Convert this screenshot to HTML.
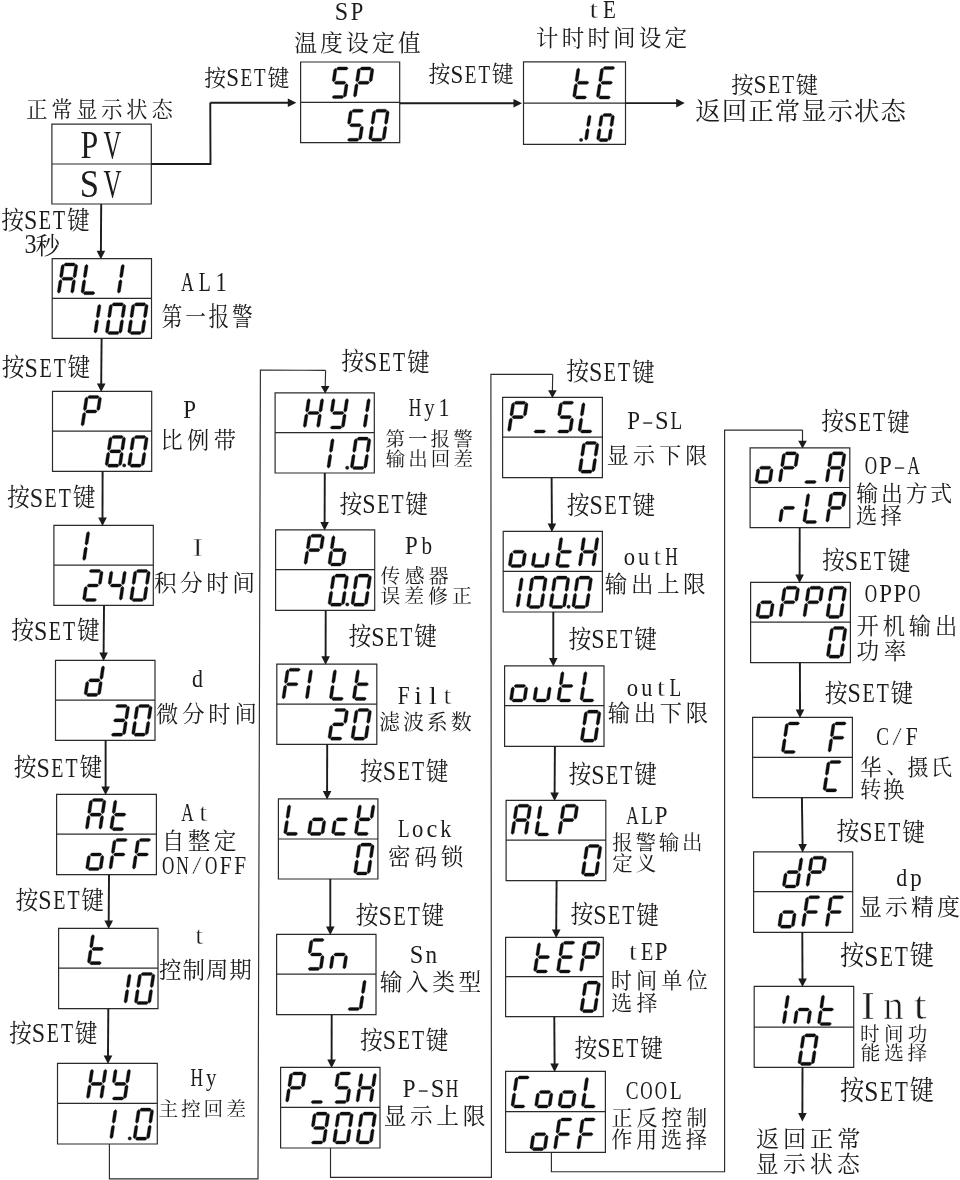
<!DOCTYPE html>
<html lang="zh">
<head>
<meta charset="utf-8">
<title>参数设置流程图</title>
<style>
html,body{margin:0;padding:0;background:#fff}
body{width:960px;height:1180px;overflow:hidden;font-family:"Liberation Serif",serif}
svg{display:block}
svg text{font-family:"Liberation Serif",serif;fill:#1a1a1a;text-anchor:middle}
svg text.cj{font-family:"Liberation Serif","Noto Serif CJK SC",serif;text-anchor:start}
.ga{opacity:.999}
.thin{stroke:#fff;stroke-width:.9}
.thin2{stroke:#fff;stroke-width:.7}
.thin3{stroke:#fff;stroke-width:.45}
.bx{fill:none;stroke:#2b2b2b;stroke-width:1.2}
.fl{fill:none;stroke:#1a1a1a;stroke-width:1.9}
.tl{fill:none;stroke:#2b2b2b;stroke-width:1.15}
.ah{fill:#1a1a1a;stroke:none}
.sg{fill:#111;stroke:#111;stroke-width:0.35;stroke-linejoin:round}
use,circle{fill:#1a1a1a}
</style>
</head>
<body>
<svg width="960" height="1180" viewBox="0 0 960 1180" role="img" aria-label="温控器参数设置流程图：正常显示状态 PV/SV，按SET键进入 SP 温度设定值、tE 计时时间设定；按SET键3秒进入 AL1 第一报警、P 比例带、I 积分时间、d 微分时间、At 自整定、t 控制周期、Hy 主控回差、Hy1、Pb、Filt、Lock、Sn、P-SH、P-SL、outH、outL、ALP、tEP、COOL、OP-A、OPPO、C/F、dp、Int，返回正常显示状态">
<desc>正常显示状态 PV SV；按SET键 → SP 温度设定值 → 按SET键 → tE 计时时间设定 → 按SET键 返回正常显示状态。按SET键3秒 → AL1 第一报警 → P 比例带 → I 积分时间 → d 微分时间 → At 自整定 ON/OFF → t 控制周期 → Hy 主控回差 → Hy1 第一报警输出回差 → Pb 传感器误差修正 → Filt 滤波系数 → Lock 密码锁 → Sn 输入类型 → P-SH 显示上限 → P-SL 显示下限 → outH 输出上限 → outL 输出下限 → ALP 报警输出定义 → tEP 时间单位选择 → COOL 正反控制作用选择 → OP-A 输出方式选择 → OPPO 开机输出功率 → C/F 华、摄氏转换 → dp 显示精度 → Int 时间功能选择 → 按SET键 返回正常显示状态</desc>
<defs>
<filter id="soft" filterUnits="userSpaceOnUse" x="0" y="0" width="960" height="1180"><feGaussianBlur stdDeviation="0.35"/></filter>
<g id="set"><text class="cj" transform="translate(-0.71,21.08) scale(0.908,1)" font-size="25.1">按</text><text class="cj" transform="translate(65.07,21.23) scale(0.908,1)" font-size="25.1">键</text><text transform="translate(28.69,21.6) scale(0.85,1)" font-size="28.2">S</text><text transform="translate(43.01,21.6) scale(0.71,1)" font-size="28.2">E</text><text transform="translate(57.19,21.6) scale(0.7,1)" font-size="28.2">T</text></g>
</defs>
<rect width="960" height="1180" fill="#fff"/>
<g class="ga" filter="url(#soft)">
<path class="bx" d="M51.9,124.2H151.3V204H51.9ZM51.9,164H151.3M300.6,62H399.7V142.7H300.6ZM300.6,102.4H399.7M523.5,61.8H625.5V144.4H523.5ZM523.5,103.1H625.5M52.2,258.6H151.5V338.4H52.2ZM52.2,298.4H151.5M52.5,391.4H151.7V471.3H52.5ZM52.5,431.1H151.7M53.9,525.4H153.3V605.3H53.9ZM53.9,565.1H153.3M55.5,660.4H155V740.3H55.5ZM55.5,700.1H155M56.6,794.4H156.4V874.7H56.6ZM56.6,834.1H156.4M58.6,928.4H158V1008.7H58.6ZM58.6,968.1H158M57.5,1063.4H157.3V1144H57.5ZM57.5,1103.4H157.3M275.1,392.9H374.3V473H275.1ZM275.1,432.7H374.3M275.6,529.9H374.7V610.3H275.6ZM275.6,569.7H374.7M276.8,664.1H376.8V744.3H276.8ZM276.8,704.1H376.8M278.4,798.8H377.9V879H278.4ZM278.4,839H377.9M276.6,934.4H376V1014.7H276.6ZM276.6,974.1H376M280.6,1067.4H380V1148H280.6ZM280.6,1107.4H380M502.6,397.4H602.4V477.7H502.6ZM502.6,437.1H602.4M503.2,531.4H602.4V612H503.2ZM503.2,571.4H602.4M504.6,665.9H604V746.3H504.6ZM504.6,705.7H604M506.1,800.4H605.8V880.7H506.1ZM506.1,840.1H605.8M505.6,937.4H603.3V1016.7H505.6ZM505.6,976.7H603.3M505.6,1071.4H605.4V1152.3H505.6ZM505.6,1111.7H605.4M750.1,447.8H849.8V527.7H750.1ZM750.1,487.5H849.8M750.6,582.4H850.4V662.7H750.6ZM750.6,622.1H850.4M752.6,717.4H852.4V797.7H752.6ZM752.6,757.4H852.4M753.6,851.9H852.7V932.3H753.6ZM753.6,891.7H852.7M754.2,986.4H853.7V1067.3H754.2ZM754.2,1027.2H853.7"/>
<g class="sg"><path d="M336.32,68.45 338.11,66.9 346.9,66.9 348.22,68.45 346.44,70 337.64,70ZM333.54,82 335.32,80.45 336.91,69.85 335.6,68.3 333.81,69.85 332.22,80.45ZM334.18,82.75 335.96,81.2 344.76,81.2 346.08,82.75 344.29,84.3 335.5,84.3ZM344.66,97.2 346.44,95.65 348.03,85.05 346.71,83.5 344.93,85.05 343.34,95.65ZM332.03,97.05 333.81,95.5 342.61,95.5 343.93,97.05 342.15,98.6 333.35,98.6Z"/><path d="M359.82,68.45 361.61,66.9 370.4,66.9 371.72,68.45 369.94,70 361.14,70ZM370.44,82 372.22,80.45 373.81,69.85 372.5,68.3 370.71,69.85 369.12,80.45ZM354.76,97.2 356.54,95.65 358.13,85.05 356.81,83.5 355.03,85.05 353.44,95.65ZM357.04,82 358.82,80.45 360.41,69.85 359.1,68.3 357.31,69.85 355.72,80.45ZM357.68,82.75 359.46,81.2 368.26,81.2 369.58,82.75 367.79,84.3 359,84.3Z"/><path d="M351.68,110.75 353.47,109.2 362.26,109.2 363.58,110.75 361.8,112.3 353,112.3ZM348.87,124.5 350.65,122.95 352.27,112.15 350.96,110.6 349.17,112.15 347.55,122.95ZM349.51,125.25 351.29,123.7 360.09,123.7 361.41,125.25 359.62,126.8 350.83,126.8ZM359.96,139.9 361.74,138.35 363.36,127.55 362.05,126 360.26,127.55 358.64,138.35ZM347.33,139.75 349.12,138.2 357.91,138.2 359.23,139.75 357.45,141.3 348.65,141.3Z"/><path d="M375.18,110.75 376.97,109.2 385.76,109.2 387.08,110.75 385.3,112.3 376.5,112.3ZM385.77,124.5 387.55,122.95 389.17,112.15 387.86,110.6 386.07,112.15 384.45,122.95ZM383.46,139.9 385.24,138.35 386.86,127.55 385.55,126 383.76,127.55 382.14,138.35ZM370.83,139.75 372.62,138.2 381.41,138.2 382.73,139.75 380.95,141.3 372.15,141.3ZM370.06,139.9 371.84,138.35 373.46,127.55 372.15,126 370.36,127.55 368.74,138.35ZM372.37,124.5 374.15,122.95 375.77,112.15 374.46,110.6 372.67,112.15 371.05,122.95Z"/><path d="M574.83,97.45 576.62,95.9 585.41,95.9 586.73,97.45 584.95,99 576.15,99ZM574.06,97.6 575.84,96.05 577.49,85.05 576.17,83.5 574.39,85.05 572.74,96.05ZM576.4,82 578.18,80.45 579.83,69.45 578.51,67.9 576.73,69.45 575.08,80.45ZM577.04,82.75 578.82,81.2 587.62,81.2 588.94,82.75 587.15,84.3 578.36,84.3Z"/><path d="M602.94,68.05 604.73,66.5 613.52,66.5 614.84,68.05 613.06,69.6 604.26,69.6ZM598.53,97.45 600.32,95.9 609.12,95.9 610.43,97.45 608.65,99 599.85,99ZM597.76,97.6 599.54,96.05 601.19,85.05 599.88,83.5 598.09,85.05 596.44,96.05ZM600.1,82 601.88,80.45 603.53,69.45 602.21,67.9 600.43,69.45 598.78,80.45ZM600.74,82.75 602.52,81.2 611.32,81.2 612.64,82.75 610.86,84.3 602.06,84.3Z"/><circle cx="581.1" cy="139.9" r="1.7"/><path d="M585.96,140.3 587.74,138.75 589.07,129.9 587.75,128.35 585.97,129.9 584.64,138.75ZM587.98,126.85 589.76,125.3 591.09,116.45 589.77,114.9 587.99,116.45 586.66,125.3Z"/><path d="M602.5,115.05 604.28,113.5 610.98,113.5 612.3,115.05 610.51,116.6 603.82,116.6ZM611.28,126.85 613.06,125.3 614.39,116.45 613.07,114.9 611.29,116.45 609.96,125.3ZM609.26,140.3 611.04,138.75 612.37,129.9 611.05,128.35 609.27,129.9 607.94,138.75ZM598.73,140.15 600.52,138.6 607.22,138.6 608.53,140.15 606.75,141.7 600.05,141.7ZM597.96,140.3 599.74,138.75 601.07,129.9 599.75,128.35 597.97,129.9 596.64,138.75ZM599.98,126.85 601.76,125.3 603.09,116.45 601.77,114.9 599.99,116.45 598.66,125.3Z"/><path d="M63.74,264.45 65.52,262.9 74.32,262.9 75.64,264.45 73.85,266 65.06,266ZM74.35,278.05 76.13,276.5 77.73,265.85 76.41,264.3 74.63,265.85 73.03,276.5ZM72.06,293.3 73.84,291.75 75.44,281.1 74.12,279.55 72.34,281.1 70.74,291.75ZM58.66,293.3 60.44,291.75 62.04,281.1 60.72,279.55 58.94,281.1 57.34,291.75ZM60.95,278.05 62.73,276.5 64.33,265.85 63.01,264.3 61.23,265.85 59.63,276.5ZM61.58,278.8 63.37,277.25 72.17,277.25 73.48,278.8 71.7,280.35 62.9,280.35Z"/><path d="M83.13,293.15 84.91,291.6 93.72,291.6 95.03,293.15 93.25,294.7 84.45,294.7ZM82.36,293.3 84.14,291.75 85.74,281.1 84.42,279.55 82.64,281.1 81.04,291.75ZM84.65,278.05 86.43,276.5 88.03,265.85 86.71,264.3 84.93,265.85 83.33,276.5Z"/><path d="M118.66,293.3 120.44,291.75 122.04,281.1 120.72,279.55 118.94,281.1 117.34,291.75ZM120.95,278.05 122.73,276.5 124.33,265.85 123.01,264.3 121.23,265.85 119.63,276.5Z"/><path d="M95.26,333.2 97.04,331.65 98.64,321 97.32,319.45 95.54,321 93.94,331.65ZM97.55,317.95 99.33,316.4 100.93,305.75 99.61,304.2 97.83,305.75 96.23,316.4Z"/><path d="M111.84,304.35 113.62,302.8 122.42,302.8 123.74,304.35 121.96,305.9 113.16,305.9ZM122.45,317.95 124.23,316.4 125.83,305.75 124.51,304.2 122.73,305.75 121.13,316.4ZM120.16,333.2 121.94,331.65 123.54,321 122.22,319.45 120.44,321 118.84,331.65ZM107.53,333.05 109.31,331.5 118.12,331.5 119.43,333.05 117.65,334.6 108.85,334.6ZM106.76,333.2 108.54,331.65 110.14,321 108.82,319.45 107.04,321 105.44,331.65ZM109.05,317.95 110.83,316.4 112.43,305.75 111.11,304.2 109.33,305.75 107.73,316.4Z"/><path d="M134.14,304.35 135.92,302.8 144.72,302.8 146.04,304.35 144.25,305.9 135.46,305.9ZM144.75,317.95 146.53,316.4 148.13,305.75 146.81,304.2 145.03,305.75 143.43,316.4ZM142.46,333.2 144.24,331.65 145.84,321 144.52,319.45 142.74,321 141.14,331.65ZM129.83,333.05 131.62,331.5 140.41,331.5 141.73,333.05 139.95,334.6 131.15,334.6ZM129.06,333.2 130.84,331.65 132.44,321 131.12,319.45 129.34,321 127.74,331.65ZM131.35,317.95 133.13,316.4 134.73,305.75 133.41,304.2 131.63,305.75 130.03,316.4Z"/><path d="M87.47,397.05 89.25,395.5 98.05,395.5 99.37,397.05 97.58,398.6 88.78,398.6ZM98.06,410.75 99.84,409.2 101.46,398.45 100.14,396.9 98.36,398.45 96.75,409.2ZM82.36,426.1 84.14,424.55 85.75,413.8 84.44,412.25 82.66,413.8 81.04,424.55ZM84.66,410.75 86.44,409.2 88.06,398.45 86.74,396.9 84.96,398.45 83.34,409.2ZM85.3,411.5 87.08,409.95 95.88,409.95 97.2,411.5 95.42,413.05 86.62,413.05Z"/><path d="M111.52,437.05 113.3,435.5 122.1,435.5 123.42,437.05 121.64,438.6 112.84,438.6ZM122.14,450.6 123.92,449.05 125.51,438.45 124.2,436.9 122.41,438.45 120.82,449.05ZM119.86,465.8 121.64,464.25 123.23,453.65 121.92,452.1 120.13,453.65 118.54,464.25ZM107.23,465.65 109.02,464.1 117.81,464.1 119.13,465.65 117.35,467.2 108.55,467.2ZM106.46,465.8 108.24,464.25 109.83,453.65 108.52,452.1 106.73,453.65 105.14,464.25ZM108.74,450.6 110.52,449.05 112.11,438.45 110.8,436.9 109.01,438.45 107.42,449.05ZM109.38,451.35 111.16,449.8 119.96,449.8 121.28,451.35 119.49,452.9 110.69,452.9Z"/><circle cx="124.2" cy="465.4" r="1.7"/><path d="M134.12,437.05 135.91,435.5 144.7,435.5 146.02,437.05 144.24,438.6 135.44,438.6ZM144.74,450.6 146.52,449.05 148.11,438.45 146.79,436.9 145.01,438.45 143.42,449.05ZM142.46,465.8 144.24,464.25 145.83,453.65 144.51,452.1 142.73,453.65 141.14,464.25ZM129.83,465.65 131.62,464.1 140.41,464.1 141.73,465.65 139.95,467.2 131.15,467.2ZM129.06,465.8 130.84,464.25 132.43,453.65 131.11,452.1 129.33,453.65 127.74,464.25ZM131.34,450.6 133.12,449.05 134.71,438.45 133.39,436.9 131.61,438.45 130.02,449.05Z"/><path d="M83.96,560.6 85.74,559.05 87.35,548.3 86.04,546.75 84.25,548.3 82.64,559.05ZM86.26,545.25 88.05,543.7 89.66,532.95 88.34,531.4 86.56,532.95 84.95,543.7Z"/><path d="M89.08,571.05 90.86,569.5 99.66,569.5 100.98,571.05 99.2,572.6 90.4,572.6ZM99.67,584.8 101.45,583.25 103.07,572.45 101.76,570.9 99.97,572.45 98.35,583.25ZM86.91,585.55 88.69,584 97.49,584 98.81,585.55 97.02,587.1 88.22,587.1ZM83.96,600.2 85.74,598.65 87.36,587.85 86.05,586.3 84.26,587.85 82.64,598.65ZM84.73,600.05 86.52,598.5 95.31,598.5 96.63,600.05 94.85,601.6 86.05,601.6Z"/><path d="M109.47,584.8 111.25,583.25 112.87,572.45 111.56,570.9 109.77,572.45 108.15,583.25ZM110.11,585.55 111.89,584 120.69,584 122.01,585.55 120.23,587.1 111.42,587.1ZM122.87,584.8 124.65,583.25 126.27,572.45 124.96,570.9 123.17,572.45 121.55,583.25ZM120.56,600.2 122.34,598.65 123.96,587.85 122.65,586.3 120.86,587.85 119.24,598.65Z"/><path d="M136.18,571.05 137.97,569.5 146.77,569.5 148.08,571.05 146.3,572.6 137.5,572.6ZM146.77,584.8 148.55,583.25 150.17,572.45 148.85,570.9 147.07,572.45 145.45,583.25ZM144.46,600.2 146.24,598.65 147.86,587.85 146.54,586.3 144.76,587.85 143.14,598.65ZM131.83,600.05 133.62,598.5 142.42,598.5 143.73,600.05 141.95,601.6 133.15,601.6ZM131.06,600.2 132.84,598.65 134.46,587.85 133.15,586.3 131.36,587.85 129.74,598.65ZM133.37,584.8 135.15,583.25 136.77,572.45 135.46,570.9 133.67,572.45 132.05,583.25Z"/><path d="M101.16,679.65 102.95,678.1 104.56,667.35 103.24,665.8 101.46,667.35 99.84,678.1ZM98.86,695 100.64,693.45 102.25,682.7 100.94,681.15 99.16,682.7 97.54,693.45ZM86.23,694.85 88.02,693.3 96.81,693.3 98.13,694.85 96.35,696.4 87.55,696.4ZM85.46,695 87.24,693.45 88.85,682.7 87.54,681.15 85.75,682.7 84.14,693.45ZM88.4,680.4 90.18,678.85 98.98,678.85 100.3,680.4 98.52,681.95 89.72,681.95Z"/><path d="M115.52,706.05 117.3,704.5 126.1,704.5 127.42,706.05 125.64,707.6 116.84,707.6ZM126.14,719.6 127.92,718.05 129.51,707.45 128.19,705.9 126.41,707.45 124.82,718.05ZM113.38,720.35 115.16,718.8 123.96,718.8 125.28,720.35 123.49,721.9 114.69,721.9ZM123.86,734.8 125.64,733.25 127.23,722.65 125.92,721.1 124.13,722.65 122.54,733.25ZM111.23,734.65 113.02,733.1 121.81,733.1 123.13,734.65 121.35,736.2 112.55,736.2Z"/><path d="M138.12,706.05 139.91,704.5 148.71,704.5 150.02,706.05 148.24,707.6 139.44,707.6ZM148.74,719.6 150.52,718.05 152.11,707.45 150.79,705.9 149.01,707.45 147.42,718.05ZM146.46,734.8 148.24,733.25 149.83,722.65 148.51,721.1 146.73,722.65 145.14,733.25ZM133.83,734.65 135.62,733.1 144.42,733.1 145.73,734.65 143.95,736.2 135.15,736.2ZM133.06,734.8 134.84,733.25 136.43,722.65 135.12,721.1 133.33,722.65 131.74,733.25ZM135.34,719.6 137.12,718.05 138.71,707.45 137.4,705.9 135.61,707.45 134.02,718.05Z"/><path d="M91.9,800.05 93.68,798.5 102.48,798.5 103.8,800.05 102.02,801.6 93.21,801.6ZM102.48,813.85 104.26,812.3 105.89,801.45 104.57,799.9 102.79,801.45 101.16,812.3ZM100.16,829.3 101.94,827.75 103.57,816.9 102.25,815.35 100.47,816.9 98.84,827.75ZM86.76,829.3 88.54,827.75 90.17,816.9 88.85,815.35 87.07,816.9 85.44,827.75ZM89.08,813.85 90.86,812.3 92.49,801.45 91.17,799.9 89.39,801.45 87.76,812.3ZM89.72,814.6 91.5,813.05 100.3,813.05 101.62,814.6 99.83,816.15 91.03,816.15Z"/><path d="M111.93,829.15 113.72,827.6 122.52,827.6 123.83,829.15 122.05,830.7 113.25,830.7ZM111.16,829.3 112.94,827.75 114.57,816.9 113.25,815.35 111.47,816.9 109.84,827.75ZM113.48,813.85 115.26,812.3 116.89,801.45 115.57,799.9 113.79,801.45 112.16,812.3ZM114.12,814.6 115.9,813.05 124.7,813.05 126.02,814.6 124.23,816.15 115.43,816.15Z"/><path d="M100.46,869.2 102.24,867.65 103.86,856.85 102.55,855.3 100.76,856.85 99.14,867.65ZM87.83,869.05 89.61,867.5 98.41,867.5 99.73,869.05 97.95,870.6 89.15,870.6ZM87.06,869.2 88.84,867.65 90.46,856.85 89.14,855.3 87.36,856.85 85.74,867.65ZM90.01,854.55 91.79,853 100.59,853 101.91,854.55 100.12,856.1 91.32,856.1Z"/><path d="M115.48,840.05 117.26,838.5 126.06,838.5 127.38,840.05 125.6,841.6 116.8,841.6ZM110.36,869.2 112.14,867.65 113.76,856.85 112.44,855.3 110.66,856.85 109.04,867.65ZM112.67,853.8 114.45,852.25 116.07,841.45 114.75,839.9 112.97,841.45 111.35,852.25ZM113.31,854.55 115.09,853 123.89,853 125.21,854.55 123.42,856.1 114.62,856.1Z"/><path d="M138.88,840.05 140.66,838.5 149.47,838.5 150.78,840.05 149,841.6 140.2,841.6ZM133.76,869.2 135.54,867.65 137.16,856.85 135.84,855.3 134.06,856.85 132.44,867.65ZM136.07,853.8 137.85,852.25 139.47,841.45 138.16,839.9 136.37,841.45 134.75,852.25ZM136.71,854.55 138.49,853 147.29,853 148.61,854.55 146.83,856.1 138.03,856.1Z"/><path d="M89.53,963.15 91.31,961.6 100.12,961.6 101.43,963.15 99.65,964.7 90.85,964.7ZM88.76,963.3 90.54,961.75 92.12,951.2 90.81,949.65 89.03,951.2 87.44,961.75ZM91.03,948.15 92.81,946.6 94.4,936.05 93.08,934.5 91.3,936.05 89.72,946.6ZM91.67,948.9 93.45,947.35 102.25,947.35 103.57,948.9 101.79,950.45 92.99,950.45Z"/><path d="M125.36,1003.2 127.14,1001.65 128.76,990.85 127.44,989.3 125.66,990.85 124.04,1001.65ZM127.67,987.8 129.45,986.25 131.07,975.45 129.75,973.9 127.97,975.45 126.35,986.25Z"/><path d="M140.88,974.05 142.66,972.5 151.47,972.5 152.78,974.05 151,975.6 142.2,975.6ZM151.47,987.8 153.25,986.25 154.87,975.45 153.55,973.9 151.77,975.45 150.15,986.25ZM149.16,1003.2 150.94,1001.65 152.56,990.85 151.24,989.3 149.46,990.85 147.84,1001.65ZM136.53,1003.05 138.31,1001.5 147.12,1001.5 148.43,1003.05 146.65,1004.6 137.85,1004.6ZM135.76,1003.2 137.54,1001.65 139.16,990.85 137.84,989.3 136.06,990.85 134.44,1001.65ZM138.07,987.8 139.85,986.25 141.47,975.45 140.16,973.9 138.37,975.45 136.75,986.25Z"/><path d="M103.48,1083.15 105.26,1081.6 106.89,1070.75 105.57,1069.2 103.79,1070.75 102.16,1081.6ZM101.16,1098.6 102.94,1097.05 104.57,1086.2 103.25,1084.65 101.47,1086.2 99.84,1097.05ZM87.76,1098.6 89.54,1097.05 91.17,1086.2 89.85,1084.65 88.07,1086.2 86.44,1097.05ZM90.08,1083.15 91.86,1081.6 93.49,1070.75 92.17,1069.2 90.39,1070.75 88.76,1081.6ZM90.72,1083.9 92.5,1082.35 101.3,1082.35 102.62,1083.9 100.83,1085.45 92.03,1085.45Z"/><path d="M127.08,1083.15 128.86,1081.6 130.49,1070.75 129.17,1069.2 127.39,1070.75 125.76,1081.6ZM124.76,1098.6 126.54,1097.05 128.17,1086.2 126.85,1084.65 125.07,1086.2 123.44,1097.05ZM112.13,1098.45 113.91,1096.9 122.72,1096.9 124.03,1098.45 122.25,1100 113.45,1100ZM113.68,1083.15 115.46,1081.6 117.09,1070.75 115.77,1069.2 113.99,1070.75 112.36,1081.6ZM114.31,1083.9 116.1,1082.35 124.9,1082.35 126.22,1083.9 124.43,1085.45 115.63,1085.45Z"/><path d="M111.16,1138.8 112.94,1137.25 114.56,1126.45 113.25,1124.9 111.46,1126.45 109.84,1137.25ZM113.47,1123.4 115.25,1121.85 116.87,1111.05 115.56,1109.5 113.77,1111.05 112.15,1121.85Z"/><circle cx="129.7" cy="1138.4" r="1.7"/><path d="M139.58,1109.65 141.36,1108.1 150.16,1108.1 151.48,1109.65 149.7,1111.2 140.9,1111.2ZM150.17,1123.4 151.95,1121.85 153.57,1111.05 152.25,1109.5 150.47,1111.05 148.85,1121.85ZM147.86,1138.8 149.64,1137.25 151.26,1126.45 149.94,1124.9 148.16,1126.45 146.54,1137.25ZM135.23,1138.65 137.01,1137.1 145.81,1137.1 147.13,1138.65 145.35,1140.2 136.55,1140.2ZM134.46,1138.8 136.24,1137.25 137.86,1126.45 136.54,1124.9 134.76,1126.45 133.14,1137.25ZM136.77,1123.4 138.55,1121.85 140.17,1111.05 138.85,1109.5 137.07,1111.05 135.45,1121.85Z"/><path d="M320.26,412.25 322.05,410.7 323.66,399.95 322.34,398.4 320.56,399.95 318.94,410.7ZM317.96,427.6 319.74,426.05 321.36,415.3 320.04,413.75 318.25,415.3 316.64,426.05ZM304.56,427.6 306.34,426.05 307.96,415.3 306.64,413.75 304.86,415.3 303.24,426.05ZM306.86,412.25 308.65,410.7 310.26,399.95 308.94,398.4 307.16,399.95 305.55,410.7ZM307.5,413 309.28,411.45 318.08,411.45 319.4,413 317.62,414.55 308.82,414.55Z"/><path d="M345.06,412.25 346.85,410.7 348.46,399.95 347.14,398.4 345.36,399.95 343.75,410.7ZM342.76,427.6 344.54,426.05 346.16,415.3 344.84,413.75 343.06,415.3 341.44,426.05ZM330.13,427.45 331.92,425.9 340.71,425.9 342.03,427.45 340.25,429 331.45,429ZM331.66,412.25 333.45,410.7 335.06,399.95 333.74,398.4 331.96,399.95 330.35,410.7ZM332.3,413 334.08,411.45 342.88,411.45 344.2,413 342.42,414.55 333.62,414.55Z"/><path d="M364.56,427.6 366.34,426.05 367.96,415.3 366.64,413.75 364.86,415.3 363.24,426.05ZM366.86,412.25 368.65,410.7 370.26,399.95 368.94,398.4 367.16,399.95 365.55,410.7Z"/><path d="M328.36,468.2 330.14,466.65 331.79,455.65 330.48,454.1 328.69,455.65 327.04,466.65ZM330.7,452.6 332.48,451.05 334.13,440.05 332.82,438.5 331.03,440.05 329.38,451.05Z"/><circle cx="347.2" cy="467.8" r="1.7"/><path d="M356.84,438.65 358.62,437.1 367.42,437.1 368.74,438.65 366.96,440.2 358.16,440.2ZM367.4,452.6 369.18,451.05 370.83,440.05 369.51,438.5 367.73,440.05 366.08,451.05ZM365.06,468.2 366.84,466.65 368.49,455.65 367.17,454.1 365.39,455.65 363.74,466.65ZM352.43,468.05 354.21,466.5 363.01,466.5 364.33,468.05 362.55,469.6 353.75,469.6ZM351.66,468.2 353.44,466.65 355.09,455.65 353.77,454.1 351.99,455.65 350.34,466.65ZM354,452.6 355.78,451.05 357.43,440.05 356.12,438.5 354.33,440.05 352.68,451.05Z"/><path d="M310.44,535.75 312.22,534.2 321.02,534.2 322.34,535.75 320.56,537.3 311.76,537.3ZM321.05,549.35 322.83,547.8 324.43,537.15 323.11,535.6 321.33,537.15 319.73,547.8ZM305.36,564.6 307.14,563.05 308.74,552.4 307.42,550.85 305.64,552.4 304.04,563.05ZM307.65,549.35 309.43,547.8 311.03,537.15 309.71,535.6 307.93,537.15 306.33,547.8ZM308.29,550.1 310.07,548.55 318.87,548.55 320.19,550.1 318.4,551.65 309.6,551.65Z"/><path d="M342.76,564.6 344.54,563.05 346.14,552.4 344.82,550.85 343.04,552.4 341.44,563.05ZM330.13,564.45 331.92,562.9 340.71,562.9 342.03,564.45 340.25,566 331.45,566ZM329.36,564.6 331.14,563.05 332.74,552.4 331.42,550.85 329.64,552.4 328.04,563.05ZM331.65,549.35 333.43,547.8 335.03,537.15 333.71,535.6 331.93,537.15 330.33,547.8ZM332.29,550.1 334.07,548.55 342.87,548.55 344.19,550.1 342.4,551.65 333.6,551.65Z"/><path d="M334.48,575.65 336.27,574.1 345.06,574.1 346.38,575.65 344.6,577.2 335.8,577.2ZM345.07,589.4 346.85,587.85 348.47,577.05 347.16,575.5 345.37,577.05 343.75,587.85ZM342.76,604.8 344.54,603.25 346.16,592.45 344.85,590.9 343.06,592.45 341.44,603.25ZM330.13,604.65 331.92,603.1 340.71,603.1 342.03,604.65 340.25,606.2 331.45,606.2ZM329.36,604.8 331.14,603.25 332.76,592.45 331.45,590.9 329.66,592.45 328.04,603.25ZM331.67,589.4 333.45,587.85 335.07,577.05 333.76,575.5 331.97,577.05 330.35,587.85Z"/><circle cx="347.3" cy="604.4" r="1.7"/><path d="M357.48,575.65 359.27,574.1 368.06,574.1 369.38,575.65 367.6,577.2 358.8,577.2ZM368.07,589.4 369.85,587.85 371.47,577.05 370.16,575.5 368.37,577.05 366.75,587.85ZM365.76,604.8 367.54,603.25 369.16,592.45 367.85,590.9 366.06,592.45 364.44,603.25ZM353.13,604.65 354.92,603.1 363.71,603.1 365.03,604.65 363.25,606.2 354.45,606.2ZM352.36,604.8 354.14,603.25 355.76,592.45 354.45,590.9 352.66,592.45 351.04,603.25ZM354.67,589.4 356.45,587.85 358.07,577.05 356.76,575.5 354.97,577.05 353.35,587.85Z"/><path d="M288.5,669.75 290.28,668.2 299.08,668.2 300.4,669.75 298.62,671.3 289.82,671.3ZM283.36,699 285.14,697.45 286.77,686.6 285.45,685.05 283.67,686.6 282.04,697.45ZM285.68,683.55 287.46,682 289.09,671.15 287.77,669.6 285.99,671.15 284.36,682ZM286.32,684.3 288.1,682.75 296.9,682.75 298.22,684.3 296.43,685.85 287.63,685.85Z"/><path d="M306.76,699 308.54,697.45 310.17,686.6 308.85,685.05 307.07,686.6 305.44,697.45ZM309.08,683.55 310.86,682 312.49,671.15 311.17,669.6 309.39,671.15 307.76,682Z"/><path d="M331.53,698.85 333.31,697.3 342.11,697.3 343.43,698.85 341.65,700.4 332.85,700.4ZM330.76,699 332.54,697.45 334.17,686.6 332.85,685.05 331.07,686.6 329.44,697.45ZM333.08,683.55 334.86,682 336.49,671.15 335.17,669.6 333.39,671.15 331.76,682Z"/><path d="M354.53,698.85 356.31,697.3 365.11,697.3 366.43,698.85 364.65,700.4 355.85,700.4ZM353.76,699 355.54,697.45 357.17,686.6 355.85,685.05 354.07,686.6 352.44,697.45ZM356.08,683.55 357.86,682 359.49,671.15 358.17,669.6 356.39,671.15 354.76,682ZM356.72,684.3 358.5,682.75 367.3,682.75 368.62,684.3 366.83,685.85 358.03,685.85Z"/><path d="M334.42,710.05 336.21,708.5 345,708.5 346.32,710.05 344.54,711.6 335.74,711.6ZM345.04,723.6 346.82,722.05 348.41,711.45 347.1,709.9 345.31,711.45 343.72,722.05ZM332.28,724.35 334.06,722.8 342.86,722.8 344.18,724.35 342.39,725.9 333.6,725.9ZM329.36,738.8 331.14,737.25 332.73,726.65 331.42,725.1 329.63,726.65 328.04,737.25ZM330.13,738.65 331.92,737.1 340.71,737.1 342.03,738.65 340.25,740.2 331.45,740.2Z"/><path d="M357.42,710.05 359.21,708.5 368,708.5 369.32,710.05 367.54,711.6 358.74,711.6ZM368.04,723.6 369.82,722.05 371.41,711.45 370.1,709.9 368.31,711.45 366.72,722.05ZM365.76,738.8 367.54,737.25 369.13,726.65 367.81,725.1 366.03,726.65 364.44,737.25ZM353.13,738.65 354.92,737.1 363.71,737.1 365.03,738.65 363.25,740.2 354.45,740.2ZM352.36,738.8 354.14,737.25 355.73,726.65 354.42,725.1 352.63,726.65 351.04,737.25ZM354.64,723.6 356.42,722.05 358.01,711.45 356.7,709.9 354.91,711.45 353.32,722.05Z"/><path d="M285.83,833.85 287.62,832.3 296.41,832.3 297.73,833.85 295.95,835.4 287.15,835.4ZM285.06,834 286.84,832.45 288.46,821.7 287.14,820.15 285.36,821.7 283.74,832.45ZM287.36,818.65 289.15,817.1 290.76,806.35 289.44,804.8 287.66,806.35 286.05,817.1Z"/><path d="M322.36,834 324.14,832.45 325.75,821.7 324.44,820.15 322.65,821.7 321.04,832.45ZM309.73,833.85 311.51,832.3 320.31,832.3 321.63,833.85 319.85,835.4 311.05,835.4ZM308.96,834 310.74,832.45 312.36,821.7 311.04,820.15 309.25,821.7 307.64,832.45ZM311.9,819.4 313.68,817.85 322.48,817.85 323.8,819.4 322.02,820.95 313.22,820.95Z"/><path d="M333.73,833.85 335.51,832.3 344.31,832.3 345.63,833.85 343.85,835.4 335.05,835.4ZM332.96,834 334.74,832.45 336.36,821.7 335.04,820.15 333.25,821.7 331.64,832.45ZM335.9,819.4 337.68,817.85 346.48,817.85 347.8,819.4 346.02,820.95 337.22,820.95Z"/><path d="M371.46,818.65 373.25,817.1 374.86,806.35 373.54,804.8 371.76,806.35 370.14,817.1ZM356.53,833.85 358.31,832.3 367.11,832.3 368.43,833.85 366.65,835.4 357.85,835.4ZM355.76,834 357.54,832.45 359.16,821.7 357.84,820.15 356.06,821.7 354.44,832.45ZM358.06,818.65 359.85,817.1 361.46,806.35 360.14,804.8 358.36,806.35 356.75,817.1ZM358.7,819.4 360.48,817.85 369.28,817.85 370.6,819.4 368.82,820.95 360.02,820.95Z"/><path d="M360.15,844.65 361.94,843.1 370.74,843.1 372.05,844.65 370.27,846.2 361.47,846.2ZM370.75,858.3 372.54,856.75 374.14,846.05 372.82,844.5 371.04,846.05 369.44,856.75ZM368.46,873.6 370.24,872.05 371.85,861.35 370.53,859.8 368.75,861.35 367.14,872.05ZM355.83,873.45 357.62,871.9 366.41,871.9 367.73,873.45 365.95,875 357.15,875ZM355.06,873.6 356.84,872.05 358.45,861.35 357.13,859.8 355.35,861.35 353.74,872.05ZM357.36,858.3 359.14,856.75 360.74,846.05 359.43,844.5 357.64,846.05 356.04,856.75Z"/><path d="M312.35,940.05 314.14,938.5 322.94,938.5 324.25,940.05 322.47,941.6 313.67,941.6ZM309.56,953.7 311.34,952.15 312.94,941.45 311.62,939.9 309.84,941.45 308.24,952.15ZM310.19,954.45 311.98,952.9 320.77,952.9 322.09,954.45 320.31,956 311.51,956ZM320.66,969 322.44,967.45 324.05,956.75 322.73,955.2 320.95,956.75 319.34,967.45ZM308.03,968.85 309.81,967.3 318.61,967.3 319.93,968.85 318.15,970.4 309.35,970.4Z"/><path d="M344.16,969 345.94,967.45 347.55,956.75 346.23,955.2 344.45,956.75 342.84,967.45ZM330.76,969 332.54,967.45 334.15,956.75 332.83,955.2 331.05,956.75 329.44,967.45ZM333.69,954.45 335.48,952.9 344.27,952.9 345.59,954.45 343.81,956 335.01,956Z"/><path d="M362.76,993.85 364.55,992.3 366.16,981.55 364.84,980 363.06,981.55 361.44,992.3ZM360.46,1009.2 362.24,1007.65 363.86,996.9 362.54,995.35 360.75,996.9 359.14,1007.65ZM347.83,1009.05 349.62,1007.5 358.41,1007.5 359.73,1009.05 357.95,1010.6 349.15,1010.6Z"/><path d="M292.02,1073.45 293.81,1071.9 302.6,1071.9 303.92,1073.45 302.14,1075 293.34,1075ZM302.64,1087 304.42,1085.45 306.01,1074.85 304.69,1073.3 302.91,1074.85 301.32,1085.45ZM286.96,1102.2 288.74,1100.65 290.33,1090.05 289.01,1088.5 287.23,1090.05 285.64,1100.65ZM289.24,1087 291.02,1085.45 292.61,1074.85 291.3,1073.3 289.51,1074.85 287.92,1085.45ZM289.88,1087.75 291.66,1086.2 300.46,1086.2 301.78,1087.75 299.99,1089.3 291.19,1089.3Z"/><path d="M310.93,1102.05 312.71,1100.5 321.51,1100.5 322.83,1102.05 321.05,1103.6 312.25,1103.6Z"/><path d="M339.02,1073.45 340.81,1071.9 349.6,1071.9 350.92,1073.45 349.14,1075 340.34,1075ZM336.24,1087 338.02,1085.45 339.61,1074.85 338.3,1073.3 336.51,1074.85 334.92,1085.45ZM336.88,1087.75 338.66,1086.2 347.46,1086.2 348.78,1087.75 346.99,1089.3 338.19,1089.3ZM347.36,1102.2 349.14,1100.65 350.73,1090.05 349.41,1088.5 347.63,1090.05 346.04,1100.65ZM334.73,1102.05 336.51,1100.5 345.31,1100.5 346.63,1102.05 344.85,1103.6 336.05,1103.6Z"/><path d="M373.04,1087 374.82,1085.45 376.41,1074.85 375.1,1073.3 373.31,1074.85 371.72,1085.45ZM370.76,1102.2 372.54,1100.65 374.13,1090.05 372.81,1088.5 371.03,1090.05 369.44,1100.65ZM357.36,1102.2 359.14,1100.65 360.73,1090.05 359.42,1088.5 357.63,1090.05 356.04,1100.65ZM359.64,1087 361.42,1085.45 363.01,1074.85 361.7,1073.3 359.91,1074.85 358.32,1085.45ZM360.28,1087.75 362.06,1086.2 370.86,1086.2 372.18,1087.75 370.39,1089.3 361.6,1089.3Z"/><path d="M315.55,1113.65 317.34,1112.1 326.13,1112.1 327.45,1113.65 325.67,1115.2 316.87,1115.2ZM326.15,1127.3 327.94,1125.75 329.54,1115.05 328.22,1113.5 326.44,1115.05 324.84,1125.75ZM323.86,1142.6 325.64,1141.05 327.25,1130.35 325.93,1128.8 324.15,1130.35 322.54,1141.05ZM311.23,1142.45 313.01,1140.9 321.81,1140.9 323.13,1142.45 321.35,1144 312.55,1144ZM312.75,1127.3 314.54,1125.75 316.14,1115.05 314.82,1113.5 313.04,1115.05 311.44,1125.75ZM313.39,1128.05 315.18,1126.5 323.97,1126.5 325.29,1128.05 323.51,1129.6 314.71,1129.6Z"/><path d="M339.25,1113.65 341.04,1112.1 349.83,1112.1 351.15,1113.65 349.37,1115.2 340.57,1115.2ZM349.85,1127.3 351.64,1125.75 353.24,1115.05 351.92,1113.5 350.14,1115.05 348.54,1125.75ZM347.56,1142.6 349.34,1141.05 350.95,1130.35 349.63,1128.8 347.85,1130.35 346.24,1141.05ZM334.93,1142.45 336.71,1140.9 345.51,1140.9 346.83,1142.45 345.05,1144 336.25,1144ZM334.16,1142.6 335.94,1141.05 337.55,1130.35 336.23,1128.8 334.45,1130.35 332.84,1141.05ZM336.45,1127.3 338.24,1125.75 339.84,1115.05 338.52,1113.5 336.74,1115.05 335.14,1125.75Z"/><path d="M362.45,1113.65 364.24,1112.1 373.04,1112.1 374.35,1113.65 372.57,1115.2 363.77,1115.2ZM373.06,1127.3 374.84,1125.75 376.44,1115.05 375.12,1113.5 373.34,1115.05 371.74,1125.75ZM370.76,1142.6 372.54,1141.05 374.15,1130.35 372.83,1128.8 371.05,1130.35 369.44,1141.05ZM358.13,1142.45 359.92,1140.9 368.71,1140.9 370.03,1142.45 368.25,1144 359.45,1144ZM357.36,1142.6 359.14,1141.05 360.75,1130.35 359.43,1128.8 357.65,1130.35 356.04,1141.05ZM359.66,1127.3 361.44,1125.75 363.04,1115.05 361.73,1113.5 359.94,1115.05 358.34,1125.75Z"/><path d="M514.04,402.75 515.82,401.2 524.62,401.2 525.94,402.75 524.15,404.3 515.36,404.3ZM524.65,416.35 526.43,414.8 528.03,404.15 526.71,402.6 524.93,404.15 523.33,414.8ZM508.96,431.6 510.74,430.05 512.34,419.4 511.02,417.85 509.24,419.4 507.64,430.05ZM511.25,416.35 513.03,414.8 514.63,404.15 513.31,402.6 511.53,404.15 509.93,414.8ZM511.88,417.1 513.67,415.55 522.47,415.55 523.78,417.1 522,418.65 513.2,418.65Z"/><path d="M533.83,431.45 535.62,429.9 544.41,429.9 545.73,431.45 543.95,433 535.15,433Z"/><path d="M561.84,402.75 563.62,401.2 572.42,401.2 573.74,402.75 571.95,404.3 563.15,404.3ZM559.05,416.35 560.83,414.8 562.43,404.15 561.11,402.6 559.33,404.15 557.73,414.8ZM559.68,417.1 561.47,415.55 570.27,415.55 571.59,417.1 569.8,418.65 561,418.65ZM570.16,431.6 571.94,430.05 573.54,419.4 572.22,417.85 570.44,419.4 568.84,430.05ZM557.53,431.45 559.32,429.9 568.12,429.9 569.43,431.45 567.65,433 558.85,433Z"/><path d="M580.13,431.45 581.92,429.9 590.72,429.9 592.03,431.45 590.25,433 581.45,433ZM579.36,431.6 581.14,430.05 582.74,419.4 581.42,417.85 579.64,419.4 578.04,430.05ZM581.65,416.35 583.43,414.8 585.03,404.15 583.71,402.6 581.93,404.15 580.33,414.8Z"/><path d="M584.82,443.05 586.61,441.5 595.4,441.5 596.72,443.05 594.94,444.6 586.14,444.6ZM595.44,456.6 597.22,455.05 598.81,444.45 597.5,442.9 595.71,444.45 594.12,455.05ZM593.16,471.8 594.94,470.25 596.53,459.65 595.22,458.1 593.43,459.65 591.84,470.25ZM580.53,471.65 582.32,470.1 591.12,470.1 592.43,471.65 590.65,473.2 581.85,473.2ZM579.76,471.8 581.54,470.25 583.13,459.65 581.81,458.1 580.03,459.65 578.44,470.25ZM582.04,456.6 583.82,455.05 585.41,444.45 584.09,442.9 582.31,444.45 580.72,455.05Z"/><path d="M523.06,566.2 524.84,564.65 526.44,554 525.12,552.45 523.34,554 521.74,564.65ZM510.43,566.05 512.22,564.5 521.01,564.5 522.33,566.05 520.55,567.6 511.75,567.6ZM509.66,566.2 511.44,564.65 513.04,554 511.72,552.45 509.94,554 508.34,564.65ZM512.59,551.7 514.37,550.15 523.17,550.15 524.49,551.7 522.7,553.25 513.9,553.25Z"/><path d="M546.06,566.2 547.84,564.65 549.44,554 548.12,552.45 546.34,554 544.74,564.65ZM533.43,566.05 535.22,564.5 544.01,564.5 545.33,566.05 543.55,567.6 534.75,567.6ZM532.66,566.2 534.44,564.65 536.04,554 534.72,552.45 532.94,554 531.34,564.65Z"/><path d="M557.83,566.05 559.62,564.5 568.41,564.5 569.73,566.05 567.95,567.6 559.15,567.6ZM557.06,566.2 558.84,564.65 560.44,554 559.12,552.45 557.34,554 555.74,564.65ZM559.35,550.95 561.13,549.4 562.73,538.75 561.41,537.2 559.63,538.75 558.03,549.4ZM559.98,551.7 561.77,550.15 570.57,550.15 571.88,551.7 570.1,553.25 561.3,553.25Z"/><path d="M595.45,550.95 597.23,549.4 598.83,538.75 597.51,537.2 595.73,538.75 594.13,549.4ZM593.16,566.2 594.94,564.65 596.54,554 595.22,552.45 593.44,554 591.84,564.65ZM579.76,566.2 581.54,564.65 583.14,554 581.82,552.45 580.04,554 578.44,564.65ZM582.05,550.95 583.83,549.4 585.43,538.75 584.11,537.2 582.33,538.75 580.73,549.4ZM582.68,551.7 584.47,550.15 593.27,550.15 594.59,551.7 592.8,553.25 584,553.25Z"/><path d="M517.46,607.2 519.24,605.65 520.89,594.65 519.58,593.1 517.79,594.65 516.14,605.65ZM519.8,591.6 521.58,590.05 523.23,579.05 521.91,577.5 520.13,579.05 518.48,590.05Z"/><path d="M533.14,577.65 534.93,576.1 543.73,576.1 545.04,577.65 543.26,579.2 534.46,579.2ZM543.7,591.6 545.48,590.05 547.13,579.05 545.82,577.5 544.03,579.05 542.38,590.05ZM541.36,607.2 543.14,605.65 544.79,594.65 543.48,593.1 541.69,594.65 540.04,605.65ZM528.73,607.05 530.52,605.5 539.32,605.5 540.63,607.05 538.85,608.6 530.05,608.6ZM527.96,607.2 529.74,605.65 531.39,594.65 530.08,593.1 528.29,594.65 526.64,605.65ZM530.3,591.6 532.08,590.05 533.73,579.05 532.41,577.5 530.63,579.05 528.98,590.05Z"/><path d="M555.74,577.65 557.52,576.1 566.32,576.1 567.64,577.65 565.86,579.2 557.06,579.2ZM566.3,591.6 568.08,590.05 569.73,579.05 568.41,577.5 566.63,579.05 564.98,590.05ZM563.96,607.2 565.74,605.65 567.39,594.65 566.08,593.1 564.29,594.65 562.64,605.65ZM551.33,607.05 553.12,605.5 561.91,605.5 563.23,607.05 561.45,608.6 552.65,608.6ZM550.56,607.2 552.34,605.65 553.99,594.65 552.67,593.1 550.89,594.65 549.24,605.65ZM552.9,591.6 554.68,590.05 556.33,579.05 555.01,577.5 553.23,579.05 551.58,590.05Z"/><circle cx="568.6" cy="606.8" r="1.7"/><path d="M578.44,577.65 580.23,576.1 589.02,576.1 590.34,577.65 588.56,579.2 579.76,579.2ZM589,591.6 590.78,590.05 592.43,579.05 591.12,577.5 589.33,579.05 587.68,590.05ZM586.66,607.2 588.44,605.65 590.09,594.65 588.78,593.1 586.99,594.65 585.34,605.65ZM574.03,607.05 575.82,605.5 584.62,605.5 585.93,607.05 584.15,608.6 575.35,608.6ZM573.26,607.2 575.04,605.65 576.69,594.65 575.38,593.1 573.59,594.65 571.94,605.65ZM575.6,591.6 577.38,590.05 579.03,579.05 577.71,577.5 575.93,579.05 574.28,590.05Z"/><path d="M524.36,700.6 526.14,699.05 527.75,688.3 526.44,686.75 524.65,688.3 523.04,699.05ZM511.73,700.45 513.51,698.9 522.32,698.9 523.63,700.45 521.85,702 513.05,702ZM510.96,700.6 512.74,699.05 514.35,688.3 513.04,686.75 511.25,688.3 509.64,699.05ZM513.9,686 515.68,684.45 524.48,684.45 525.8,686 524.02,687.55 515.22,687.55Z"/><path d="M547.76,700.6 549.54,699.05 551.15,688.3 549.84,686.75 548.05,688.3 546.44,699.05ZM535.13,700.45 536.92,698.9 545.72,698.9 547.03,700.45 545.25,702 536.45,702ZM534.36,700.6 536.14,699.05 537.75,688.3 536.44,686.75 534.65,688.3 533.04,699.05Z"/><path d="M559.13,700.45 560.92,698.9 569.72,698.9 571.03,700.45 569.25,702 560.45,702ZM558.36,700.6 560.14,699.05 561.75,688.3 560.44,686.75 558.65,688.3 557.04,699.05ZM560.66,685.25 562.45,683.7 564.06,672.95 562.74,671.4 560.96,672.95 559.35,683.7ZM561.3,686 563.08,684.45 571.88,684.45 573.2,686 571.42,687.55 562.62,687.55Z"/><path d="M582.13,700.45 583.92,698.9 592.72,698.9 594.03,700.45 592.25,702 583.45,702ZM581.36,700.6 583.14,699.05 584.75,688.3 583.44,686.75 581.65,688.3 580.04,699.05ZM583.66,685.25 585.45,683.7 587.06,672.95 585.74,671.4 583.96,672.95 582.35,683.7Z"/><path d="M586.88,711.65 588.67,710.1 597.47,710.1 598.78,711.65 597,713.2 588.2,713.2ZM597.47,725.4 599.25,723.85 600.87,713.05 599.56,711.5 597.77,713.05 596.15,723.85ZM595.16,740.8 596.94,739.25 598.56,728.45 597.25,726.9 595.46,728.45 593.84,739.25ZM582.53,740.65 584.32,739.1 593.12,739.1 594.43,740.65 592.65,742.2 583.85,742.2ZM581.76,740.8 583.54,739.25 585.16,728.45 583.84,726.9 582.06,728.45 580.44,739.25ZM584.07,725.4 585.85,723.85 587.47,713.05 586.15,711.5 584.37,713.05 582.75,723.85Z"/><path d="M517.44,805.75 519.22,804.2 528.02,804.2 529.34,805.75 527.55,807.3 518.75,807.3ZM528.05,819.35 529.83,817.8 531.43,807.15 530.11,805.6 528.33,807.15 526.73,817.8ZM525.76,834.6 527.54,833.05 529.14,822.4 527.82,820.85 526.04,822.4 524.44,833.05ZM512.36,834.6 514.14,833.05 515.74,822.4 514.42,820.85 512.64,822.4 511.04,833.05ZM514.65,819.35 516.43,817.8 518.03,807.15 516.71,805.6 514.93,807.15 513.33,817.8ZM515.28,820.1 517.07,818.55 525.87,818.55 527.19,820.1 525.4,821.65 516.6,821.65Z"/><path d="M537.03,834.45 538.82,832.9 547.62,832.9 548.93,834.45 547.15,836 538.35,836ZM536.26,834.6 538.04,833.05 539.64,822.4 538.32,820.85 536.54,822.4 534.94,833.05ZM538.55,819.35 540.33,817.8 541.93,807.15 540.61,805.6 538.83,807.15 537.23,817.8Z"/><path d="M564.44,805.75 566.22,804.2 575.02,804.2 576.34,805.75 574.55,807.3 565.75,807.3ZM575.05,819.35 576.83,817.8 578.43,807.15 577.11,805.6 575.33,807.15 573.73,817.8ZM559.36,834.6 561.14,833.05 562.74,822.4 561.42,820.85 559.64,822.4 558.04,833.05ZM561.65,819.35 563.43,817.8 565.03,807.15 563.71,805.6 561.93,807.15 560.33,817.8ZM562.28,820.1 564.07,818.55 572.87,818.55 574.19,820.1 572.4,821.65 563.6,821.65Z"/><path d="M587.82,846.05 589.61,844.5 598.4,844.5 599.72,846.05 597.94,847.6 589.14,847.6ZM598.44,859.6 600.22,858.05 601.81,847.45 600.5,845.9 598.71,847.45 597.12,858.05ZM596.16,874.8 597.94,873.25 599.53,862.65 598.22,861.1 596.43,862.65 594.84,873.25ZM583.53,874.65 585.32,873.1 594.12,873.1 595.43,874.65 593.65,876.2 584.85,876.2ZM582.76,874.8 584.54,873.25 586.13,862.65 584.81,861.1 583.03,862.65 581.44,873.25ZM585.04,859.6 586.82,858.05 588.41,847.45 587.09,845.9 585.31,847.45 583.72,858.05Z"/><path d="M535.73,971.45 537.52,969.9 546.32,969.9 547.63,971.45 545.85,973 537.05,973ZM534.96,971.6 536.74,970.05 538.34,959.4 537.02,957.85 535.24,959.4 533.64,970.05ZM537.25,956.35 539.03,954.8 540.63,944.15 539.31,942.6 537.53,944.15 535.93,954.8ZM537.88,957.1 539.67,955.55 548.47,955.55 549.79,957.1 548,958.65 539.2,958.65Z"/><path d="M563.04,942.75 564.82,941.2 573.62,941.2 574.94,942.75 573.15,944.3 564.36,944.3ZM558.73,971.45 560.52,969.9 569.32,969.9 570.63,971.45 568.85,973 560.05,973ZM557.96,971.6 559.74,970.05 561.34,959.4 560.02,957.85 558.24,959.4 556.64,970.05ZM560.25,956.35 562.03,954.8 563.63,944.15 562.31,942.6 560.53,944.15 558.93,954.8ZM560.88,957.1 562.67,955.55 571.47,955.55 572.79,957.1 571,958.65 562.2,958.65Z"/><path d="M586.04,942.75 587.82,941.2 596.62,941.2 597.94,942.75 596.15,944.3 587.36,944.3ZM596.65,956.35 598.43,954.8 600.03,944.15 598.71,942.6 596.93,944.15 595.33,954.8ZM580.96,971.6 582.74,970.05 584.34,959.4 583.02,957.85 581.24,959.4 579.64,970.05ZM583.25,956.35 585.03,954.8 586.63,944.15 585.31,942.6 583.53,944.15 581.93,954.8ZM583.88,957.1 585.67,955.55 594.47,955.55 595.79,957.1 594,958.65 585.2,958.65Z"/><path d="M586.41,982.65 588.19,981.1 596.99,981.1 598.31,982.65 596.52,984.2 587.73,984.2ZM597.03,996.15 598.82,994.6 600.4,984.05 599.08,982.5 597.3,984.05 595.72,994.6ZM594.76,1011.3 596.54,1009.75 598.12,999.2 596.81,997.65 595.02,999.2 593.44,1009.75ZM582.13,1011.15 583.92,1009.6 592.72,1009.6 594.03,1011.15 592.25,1012.7 583.45,1012.7ZM581.36,1011.3 583.14,1009.75 584.73,999.2 583.41,997.65 581.62,999.2 580.04,1009.75ZM583.63,996.15 585.42,994.6 587,984.05 585.68,982.5 583.9,984.05 582.32,994.6Z"/><path d="M517.48,1077.45 519.27,1075.9 528.07,1075.9 529.38,1077.45 527.6,1079 518.8,1079ZM513.13,1106.45 514.92,1104.9 523.72,1104.9 525.03,1106.45 523.25,1108 514.45,1108ZM512.36,1106.6 514.14,1105.05 515.76,1094.25 514.44,1092.7 512.66,1094.25 511.04,1105.05ZM514.67,1091.2 516.45,1089.65 518.07,1078.85 516.75,1077.3 514.97,1078.85 513.35,1089.65Z"/><path d="M549.46,1106.6 551.24,1105.05 552.86,1094.25 551.54,1092.7 549.76,1094.25 548.14,1105.05ZM536.83,1106.45 538.62,1104.9 547.41,1104.9 548.73,1106.45 546.95,1108 538.15,1108ZM536.06,1106.6 537.84,1105.05 539.46,1094.25 538.14,1092.7 536.36,1094.25 534.74,1105.05ZM539.01,1091.95 540.79,1090.4 549.59,1090.4 550.91,1091.95 549.12,1093.5 540.32,1093.5Z"/><path d="M572.76,1106.6 574.54,1105.05 576.16,1094.25 574.85,1092.7 573.06,1094.25 571.44,1105.05ZM560.13,1106.45 561.92,1104.9 570.72,1104.9 572.03,1106.45 570.25,1108 561.45,1108ZM559.36,1106.6 561.14,1105.05 562.76,1094.25 561.44,1092.7 559.66,1094.25 558.04,1105.05ZM562.31,1091.95 564.09,1090.4 572.89,1090.4 574.21,1091.95 572.42,1093.5 563.62,1093.5Z"/><path d="M583.53,1106.45 585.32,1104.9 594.12,1104.9 595.43,1106.45 593.65,1108 584.85,1108ZM582.76,1106.6 584.54,1105.05 586.16,1094.25 584.84,1092.7 583.06,1094.25 581.44,1105.05ZM585.07,1091.2 586.85,1089.65 588.47,1078.85 587.15,1077.3 585.37,1078.85 583.75,1089.65Z"/><path d="M544.66,1149.3 546.44,1147.75 548.12,1136.6 546.8,1135.05 545.01,1136.6 543.34,1147.75ZM532.03,1149.15 533.82,1147.6 542.62,1147.6 543.93,1149.15 542.15,1150.7 533.35,1150.7ZM531.26,1149.3 533.04,1147.75 534.72,1136.6 533.4,1135.05 531.62,1136.6 529.94,1147.75ZM534.26,1134.3 536.04,1132.75 544.84,1132.75 546.16,1134.3 544.38,1135.85 535.58,1135.85Z"/><path d="M560.19,1119.45 561.97,1117.9 570.77,1117.9 572.09,1119.45 570.31,1121 561.51,1121ZM554.96,1149.3 556.74,1147.75 558.42,1136.6 557.1,1135.05 555.32,1136.6 553.64,1147.75ZM557.32,1133.55 559.11,1132 560.78,1120.85 559.46,1119.3 557.68,1120.85 556,1132ZM557.96,1134.3 559.74,1132.75 568.54,1132.75 569.86,1134.3 568.08,1135.85 559.28,1135.85Z"/><path d="M583.49,1119.45 585.27,1117.9 594.07,1117.9 595.39,1119.45 593.61,1121 584.81,1121ZM578.26,1149.3 580.04,1147.75 581.72,1136.6 580.4,1135.05 578.62,1136.6 576.94,1147.75ZM580.62,1133.55 582.4,1132 584.08,1120.85 582.76,1119.3 580.98,1120.85 579.3,1132ZM581.26,1134.3 583.04,1132.75 591.84,1132.75 593.16,1134.3 591.38,1135.85 582.58,1135.85Z"/><path d="M769.76,482.2 771.54,480.65 773.14,470 771.82,468.45 770.04,470 768.44,480.65ZM757.13,482.05 758.92,480.5 767.72,480.5 769.03,482.05 767.25,483.6 758.45,483.6ZM756.36,482.2 758.14,480.65 759.74,470 758.42,468.45 756.64,470 755.04,480.65ZM759.28,467.7 761.07,466.15 769.87,466.15 771.19,467.7 769.4,469.25 760.6,469.25Z"/><path d="M784.84,453.35 786.62,451.8 795.42,451.8 796.74,453.35 794.95,454.9 786.15,454.9ZM795.45,466.95 797.23,465.4 798.83,454.75 797.51,453.2 795.73,454.75 794.13,465.4ZM779.76,482.2 781.54,480.65 783.14,470 781.82,468.45 780.04,470 778.44,480.65ZM782.05,466.95 783.83,465.4 785.43,454.75 784.11,453.2 782.33,454.75 780.73,465.4ZM782.68,467.7 784.47,466.15 793.27,466.15 794.59,467.7 792.8,469.25 784,469.25Z"/><path d="M804.53,482.05 806.32,480.5 815.12,480.5 816.43,482.05 814.65,483.6 805.85,483.6Z"/><path d="M831.84,453.35 833.62,451.8 842.42,451.8 843.74,453.35 841.95,454.9 833.15,454.9ZM842.45,466.95 844.23,465.4 845.83,454.75 844.51,453.2 842.73,454.75 841.13,465.4ZM840.16,482.2 841.94,480.65 843.54,470 842.22,468.45 840.44,470 838.84,480.65ZM826.76,482.2 828.54,480.65 830.14,470 828.82,468.45 827.04,470 825.44,480.65ZM829.05,466.95 830.83,465.4 832.43,454.75 831.11,453.2 829.33,454.75 827.73,465.4ZM829.68,467.7 831.47,466.15 840.27,466.15 841.59,467.7 839.8,469.25 831,469.25Z"/><path d="M780.06,522.2 781.84,520.65 783.42,510.15 782.1,508.6 780.32,510.15 778.74,520.65ZM782.96,507.85 784.75,506.3 793.54,506.3 794.86,507.85 793.08,509.4 784.28,509.4Z"/><path d="M804.93,522.05 806.72,520.5 815.51,520.5 816.83,522.05 815.05,523.6 806.25,523.6ZM804.16,522.2 805.94,520.65 807.52,510.15 806.2,508.6 804.42,510.15 802.84,520.65ZM806.42,507.1 808.21,505.55 809.78,495.05 808.46,493.5 806.68,495.05 805.11,505.55Z"/><path d="M832.19,493.65 833.98,492.1 842.77,492.1 844.09,493.65 842.31,495.2 833.51,495.2ZM842.83,507.1 844.61,505.55 846.18,495.05 844.87,493.5 843.08,495.05 841.51,505.55ZM827.16,522.2 828.94,520.65 830.52,510.15 829.2,508.6 827.42,510.15 825.84,520.65ZM829.42,507.1 831.21,505.55 832.78,495.05 831.46,493.5 829.68,495.05 828.11,505.55ZM830.06,507.85 831.85,506.3 840.64,506.3 841.96,507.85 840.18,509.4 831.38,509.4Z"/><path d="M770.76,617 772.54,615.45 774.17,604.6 772.85,603.05 771.07,604.6 769.44,615.45ZM758.13,616.85 759.92,615.3 768.72,615.3 770.03,616.85 768.25,618.4 759.45,618.4ZM757.36,617 759.14,615.45 760.77,604.6 759.45,603.05 757.67,604.6 756.04,615.45ZM760.31,602.3 762.1,600.75 770.9,600.75 772.22,602.3 770.43,603.85 761.63,603.85Z"/><path d="M785.5,587.75 787.28,586.2 796.08,586.2 797.4,587.75 795.62,589.3 786.82,589.3ZM796.08,601.55 797.86,600 799.49,589.15 798.17,587.6 796.39,589.15 794.76,600ZM780.36,617 782.14,615.45 783.77,604.6 782.45,603.05 780.67,604.6 779.04,615.45ZM782.68,601.55 784.46,600 786.09,589.15 784.77,587.6 782.99,589.15 781.36,600ZM783.31,602.3 785.1,600.75 793.9,600.75 795.22,602.3 793.43,603.85 784.63,603.85Z"/><path d="M809.5,587.75 811.28,586.2 820.08,586.2 821.4,587.75 819.62,589.3 810.82,589.3ZM820.08,601.55 821.86,600 823.49,589.15 822.17,587.6 820.39,589.15 818.76,600ZM804.36,617 806.14,615.45 807.77,604.6 806.45,603.05 804.67,604.6 803.04,615.45ZM806.68,601.55 808.46,600 810.09,589.15 808.77,587.6 806.99,589.15 805.36,600ZM807.31,602.3 809.1,600.75 817.9,600.75 819.22,602.3 817.43,603.85 808.63,603.85Z"/><path d="M832.5,587.75 834.28,586.2 843.08,586.2 844.4,587.75 842.62,589.3 833.82,589.3ZM843.08,601.55 844.86,600 846.49,589.15 845.17,587.6 843.39,589.15 841.76,600ZM840.76,617 842.54,615.45 844.17,604.6 842.85,603.05 841.07,604.6 839.44,615.45ZM828.13,616.85 829.92,615.3 838.72,615.3 840.03,616.85 838.25,618.4 829.45,618.4ZM827.36,617 829.14,615.45 830.77,604.6 829.45,603.05 827.67,604.6 826.04,615.45ZM829.68,601.55 831.46,600 833.09,589.15 831.77,587.6 829.99,589.15 828.36,600Z"/><path d="M832.82,628.05 834.61,626.5 843.4,626.5 844.72,628.05 842.94,629.6 834.14,629.6ZM843.44,641.6 845.22,640.05 846.81,629.45 845.5,627.9 843.71,629.45 842.12,640.05ZM841.16,656.8 842.94,655.25 844.53,644.65 843.22,643.1 841.43,644.65 839.84,655.25ZM828.53,656.65 830.32,655.1 839.12,655.1 840.43,656.65 838.65,658.2 829.85,658.2ZM827.76,656.8 829.54,655.25 831.13,644.65 829.81,643.1 828.03,644.65 826.44,655.25ZM830.04,641.6 831.82,640.05 833.41,629.45 832.09,627.9 830.31,629.45 828.72,640.05Z"/><path d="M787.82,723.45 789.61,721.9 798.4,721.9 799.72,723.45 797.94,725 789.14,725ZM783.53,752.05 785.32,750.5 794.12,750.5 795.43,752.05 793.65,753.6 784.85,753.6ZM782.76,752.2 784.54,750.65 786.13,740.05 784.81,738.5 783.03,740.05 781.44,750.65ZM785.04,737 786.82,735.45 788.41,724.85 787.09,723.3 785.31,724.85 783.72,735.45Z"/><path d="M834.42,723.45 836.21,721.9 845,721.9 846.32,723.45 844.54,725 835.74,725ZM829.36,752.2 831.14,750.65 832.73,740.05 831.41,738.5 829.63,740.05 828.04,750.65ZM831.64,737 833.42,735.45 835.01,724.85 833.69,723.3 831.91,724.85 830.32,735.45ZM832.28,737.75 834.06,736.2 842.86,736.2 844.18,737.75 842.39,739.3 833.6,739.3Z"/><path d="M829.39,761.95 831.18,760.4 839.98,760.4 841.29,761.95 839.51,763.5 830.71,763.5ZM825.13,790.35 826.92,788.8 835.72,788.8 837.03,790.35 835.25,791.9 826.45,791.9ZM824.36,790.5 826.14,788.95 827.72,778.45 826.4,776.9 824.62,778.45 823.04,788.95ZM826.62,775.4 828.41,773.85 829.98,763.35 828.66,761.8 826.88,763.35 825.31,773.85Z"/><path d="M799.45,871.35 801.23,869.8 802.83,859.15 801.51,857.6 799.73,859.15 798.13,869.8ZM797.16,886.6 798.94,885.05 800.54,874.4 799.22,872.85 797.44,874.4 795.84,885.05ZM784.53,886.45 786.32,884.9 795.12,884.9 796.43,886.45 794.65,888 785.85,888ZM783.76,886.6 785.54,885.05 787.14,874.4 785.82,872.85 784.04,874.4 782.44,885.05ZM786.68,872.1 788.47,870.55 797.27,870.55 798.59,872.1 796.8,873.65 788,873.65Z"/><path d="M812.44,857.75 814.22,856.2 823.02,856.2 824.34,857.75 822.55,859.3 813.75,859.3ZM823.05,871.35 824.83,869.8 826.43,859.15 825.11,857.6 823.33,859.15 821.73,869.8ZM807.36,886.6 809.14,885.05 810.74,874.4 809.42,872.85 807.64,874.4 806.04,885.05ZM809.65,871.35 811.43,869.8 813.03,859.15 811.71,857.6 809.93,859.15 808.33,869.8ZM810.28,872.1 812.07,870.55 820.87,870.55 822.19,872.1 820.4,873.65 811.6,873.65Z"/><path d="M792.66,926.8 794.44,925.25 796.09,914.25 794.78,912.7 792.99,914.25 791.34,925.25ZM780.03,926.65 781.82,925.1 790.62,925.1 791.93,926.65 790.15,928.2 781.35,928.2ZM779.26,926.8 781.04,925.25 782.69,914.25 781.38,912.7 779.59,914.25 777.94,925.25ZM782.24,911.95 784.02,910.4 792.82,910.4 794.14,911.95 792.36,913.5 783.56,913.5Z"/><path d="M808.14,897.25 809.93,895.7 818.73,895.7 820.04,897.25 818.26,898.8 809.46,898.8ZM802.96,926.8 804.74,925.25 806.39,914.25 805.08,912.7 803.29,914.25 801.64,925.25ZM805.3,911.2 807.08,909.65 808.73,898.65 807.41,897.1 805.63,898.65 803.98,909.65ZM805.94,911.95 807.72,910.4 816.52,910.4 817.84,911.95 816.06,913.5 807.26,913.5Z"/><path d="M831.84,897.25 833.62,895.7 842.42,895.7 843.74,897.25 841.96,898.8 833.16,898.8ZM826.66,926.8 828.44,925.25 830.09,914.25 828.77,912.7 826.99,914.25 825.34,925.25ZM829,911.2 830.78,909.65 832.43,898.65 831.11,897.1 829.33,898.65 827.68,909.65ZM829.64,911.95 831.42,910.4 840.22,910.4 841.54,911.95 839.75,913.5 830.96,913.5Z"/><path d="M783.66,1024.1 785.44,1022.55 787.05,1011.8 785.74,1010.25 783.95,1011.8 782.34,1022.55ZM785.96,1008.75 787.75,1007.2 789.36,996.45 788.04,994.9 786.26,996.45 784.64,1007.2Z"/><path d="M808.16,1024.1 809.94,1022.55 811.55,1011.8 810.24,1010.25 808.45,1011.8 806.84,1022.55ZM794.76,1024.1 796.54,1022.55 798.15,1011.8 796.84,1010.25 795.05,1011.8 793.44,1022.55ZM797.7,1009.5 799.48,1007.95 808.28,1007.95 809.6,1009.5 807.82,1011.05 799.02,1011.05Z"/><path d="M819.63,1023.95 821.42,1022.4 830.22,1022.4 831.53,1023.95 829.75,1025.5 820.95,1025.5ZM818.86,1024.1 820.64,1022.55 822.25,1011.8 820.94,1010.25 819.15,1011.8 817.54,1022.55ZM821.16,1008.75 822.95,1007.2 824.56,996.45 823.24,994.9 821.46,996.45 819.85,1007.2ZM821.8,1009.5 823.58,1007.95 832.38,1007.95 833.7,1009.5 831.92,1011.05 823.12,1011.05Z"/><path d="M804.31,1035.35 806.09,1033.8 814.89,1033.8 816.21,1035.35 814.42,1036.9 805.62,1036.9ZM814.93,1048.85 816.72,1047.3 818.3,1036.75 816.98,1035.2 815.2,1036.75 813.62,1047.3ZM812.66,1064 814.44,1062.45 816.02,1051.9 814.71,1050.35 812.92,1051.9 811.34,1062.45ZM800.03,1063.85 801.82,1062.3 810.62,1062.3 811.93,1063.85 810.15,1065.4 801.35,1065.4ZM799.26,1064 801.04,1062.45 802.62,1051.9 801.31,1050.35 799.52,1051.9 797.94,1062.45ZM801.53,1048.85 803.32,1047.3 804.9,1036.75 803.58,1035.2 801.8,1036.75 800.22,1047.3Z"/></g>
<g><path class="fl" d="M151.3,164H210.5L210.25,102.75"/><path class="fl" d="M210.25,102.75L288.8,102.75"/><path class="ah" d="M296.3,102.75L287.8,98.45L287.8,107.05Z"/><path class="fl" d="M399.7,103.2L514.5,103.2"/><path class="ah" d="M522,103.2L513.5,98.9L513.5,107.5Z"/><path class="fl" d="M625.5,103.1L677.2,103.1"/><path class="ah" d="M684.7,103.1L676.2,98.8L676.2,107.4Z"/><path class="fl" d="M101.2,204L100.9,251.8"/><path class="ah" d="M100.9,259.3L96.6,250.8L105.2,250.8Z"/><path class="fl" d="M101.6,338.4L101.2,384.6"/><path class="ah" d="M101.2,392.1L96.9,383.6L105.5,383.6Z"/><path class="fl" d="M102.6,471.3L102.5,518.6"/><path class="ah" d="M102.5,526.1L98.2,517.6L106.8,517.6Z"/><path class="fl" d="M104,605.3L103.6,653.6"/><path class="ah" d="M103.6,661.1L99.3,652.6L107.9,652.6Z"/><path class="fl" d="M105.6,740.3L105.6,787.6"/><path class="ah" d="M105.6,795.1L101.3,786.6L109.9,786.6Z"/><path class="fl" d="M109,874.7L108.7,921.6"/><path class="ah" d="M108.7,929.1L104.4,920.6L113,920.6Z"/><path class="fl" d="M108.3,1008.7L108,1056.6"/><path class="ah" d="M108,1064.1L103.7,1055.6L112.3,1055.6Z"/><path class="tl" d="M109.4,1144V1178.8H258L260.4,370L325.6,370.4"/><path class="tl" d="M325.6,370.4L325.2,387"/><path class="ah" d="M325.2,393.6L320.9,386L329.5,386Z"/><path class="fl" d="M324.8,473L324.6,523.1"/><path class="ah" d="M324.6,530.6L320.3,522.1L328.9,522.1Z"/><path class="fl" d="M325.7,610.3L325.6,657.3"/><path class="ah" d="M325.6,664.8L321.3,656.3L329.9,656.3Z"/><path class="fl" d="M327.2,744.3L327.1,792"/><path class="ah" d="M327.1,799.5L322.8,791L331.4,791Z"/><path class="fl" d="M330.3,879L330.3,927.6"/><path class="ah" d="M330.3,935.1L326,926.6L334.6,926.6Z"/><path class="fl" d="M331.7,1014.7L331.6,1060.6"/><path class="ah" d="M331.6,1068.1L327.3,1059.6L335.9,1059.6Z"/><path class="tl" d="M330.5,1148V1177.4H491.4L490.9,374.3H552.7"/><path class="tl" d="M552.7,374.3L552.4,391.3"/><path class="ah" d="M552.4,398.1L548.1,390.3L556.7,390.3Z"/><path class="fl" d="M551.6,477.7L551.9,524.6"/><path class="ah" d="M551.9,532.1L547.6,523.6L556.2,523.6Z"/><path class="fl" d="M553.3,612L553.3,659.1"/><path class="ah" d="M553.3,666.6L549,658.1L557.6,658.1Z"/><path class="fl" d="M554.9,746.3L554.6,793.6"/><path class="ah" d="M554.6,801.1L550.3,792.6L558.9,792.6Z"/><path class="fl" d="M556.6,880.7L556.2,930.6"/><path class="ah" d="M556.2,938.1L551.9,929.6L560.5,929.6Z"/><path class="fl" d="M554.3,1016.7L554.6,1064.6"/><path class="ah" d="M554.6,1072.1L550.3,1063.6L558.9,1063.6Z"/><path class="tl" d="M551.4,1152.3V1171.7H724.6V430.1H802.5"/><path class="tl" d="M802.5,430.1L802.5,441.7"/><path class="ah" d="M802.5,448.5L798.2,440.7L806.8,440.7Z"/><path class="fl" d="M799.7,527.7L799.6,575.6"/><path class="ah" d="M799.6,583.1L795.3,574.6L803.9,574.6Z"/><path class="fl" d="M799.9,662.7L800,710.6"/><path class="ah" d="M800,718.1L795.7,709.6L804.3,709.6Z"/><path class="fl" d="M801.9,797.7L802.6,845.1"/><path class="ah" d="M802.6,852.6L798.3,844.1L806.9,844.1Z"/><path class="fl" d="M802.3,932.3L802.5,979.6"/><path class="ah" d="M802.5,987.1L798.2,978.6L806.8,978.6Z"/><path class="fl" d="M802.5,1067.3L802.4,1113.9"/><path class="ah" d="M802.4,1121.4L798.1,1112.9L806.7,1112.9Z"/></g>
<g><use href="#set" transform="translate(205,66.9) scale(0.96,0.89)"/><use href="#set" transform="translate(429.3,63.3) scale(0.96,0.89)"/><use href="#set" transform="translate(732,73.3) scale(0.98,0.92)"/><use href="#set" x="1.9" y="207.5"/><use href="#set" x="2.5" y="355"/><use href="#set" x="7.6" y="485"/><use href="#set" x="11.9" y="618.1"/><use href="#set" x="14.4" y="755"/><use href="#set" x="16.3" y="887.7"/><use href="#set" x="9.8" y="1020.7"/><use href="#set" x="341.9" y="349.4"/><use href="#set" x="340.3" y="491.5"/><use href="#set" x="349.2" y="623.9"/><use href="#set" x="360.8" y="758.5"/><use href="#set" x="356.5" y="903"/><use href="#set" x="360.8" y="1027.7"/><use href="#set" x="566.9" y="359.4"/><use href="#set" x="567.5" y="492.8"/><use href="#set" x="569.2" y="626.6"/><use href="#set" x="569.2" y="762"/><use href="#set" x="571.1" y="902.3"/><use href="#set" x="575.1" y="1035.8"/><use href="#set" x="821.9" y="409.4"/><use href="#set" x="822.7" y="548.3"/><use href="#set" x="825.5" y="680.7"/><use href="#set" x="837.1" y="819.3"/><use href="#set" transform="translate(840.8,942.4) scale(1.06,1.08)"/><use href="#set" transform="translate(840.8,1077.4) scale(1.06,1.08)"/></g>
<g><text class="cj" x="26.21 51.24 76.28 101.32 126.35 151.39" y="116.6" font-size="21.3">正常显示状态</text><text transform="translate(89.38,158.1) scale(0.81,1)" font-size="39.4">P</text><text transform="translate(112.3,158.1) scale(0.62,1)" font-size="39.4">V</text><text transform="translate(89.42,197.3) scale(0.89,1)" font-size="39">S</text><text transform="translate(112.4,197.3) scale(0.64,1)" font-size="39">V</text><text transform="translate(341.54,20) scale(0.97,1)" font-size="24.8">S</text><text transform="translate(357.03,20) scale(0.91,1)" font-size="24.8">P</text><text class="cj" x="294.16 320.07 345.97 371.88 397.79" y="50.65" font-size="22.8">温度设定值</text><text class="thin3" transform="translate(593.64,17.8) scale(1.26,1)" font-size="25.4">t</text><text transform="translate(609.42,17.8) scale(0.83,1)" font-size="25.4">E</text><text class="cj" x="536.1 561.76 587.42 613.08 638.74 664.4" y="45.94" font-size="22.5">计时时间设定</text><text class="cj" x="695.29 721.75 748.22 774.68 801.15 827.61 854.07 880.54" y="120.19" font-size="25.4">返回正常显示状态</text><text transform="translate(30.49,252.9) scale(0.91,1)" font-size="26.5">3</text><text class="cj" x="35.85" y="254.2" font-size="24.1">秒</text><text transform="translate(187.48,291) scale(0.63,1)" font-size="28.2">A</text><text transform="translate(204.81,291) scale(0.7,1)" font-size="28.2">L</text><text transform="translate(221.18,291) scale(0.8,1)" font-size="28.2">1</text><text class="cj" transform="translate(161.72,325.93) scale(0.805,1)" x="0 29.11 58.22 87.33" y="0" font-size="25.6">第一报警</text><text transform="translate(189.53,417.7) scale(0.91,1)" font-size="25.2">P</text><text class="cj" x="160.41 187.11 213.81" y="447.74" font-size="22.2">比例带</text><text class="thin3" transform="translate(197.68,555.8) scale(1.23,1)" font-size="25.2">I</text><text class="cj" x="153.91 180.04 206.18 232.32" y="590.61" font-size="22.7">积分时间</text><text transform="translate(197.44,686.6) scale(0.87,1)" font-size="25.2">d</text><text class="cj" x="156.01 182.18 208.34 234.51" y="722.01" font-size="22.3">微分时间</text><text transform="translate(187.38,821.3) scale(0.68,1)" font-size="25.2">A</text><text class="thin3" transform="translate(203.14,821.3) scale(1.2,1)" font-size="25.2">t</text><text class="cj" x="161.82 187.81 213.8" y="848.87" font-size="22.6">自整定</text><text transform="translate(168.1,873.5) scale(0.68,1)" font-size="25.2">O</text><text transform="translate(182.45,873.5) scale(0.69,1)" font-size="25.2">N</text><text class="thin3" transform="translate(196.9,873.5) scale(1.38,1)" font-size="25.2">/</text><text transform="translate(211.3,873.5) scale(0.68,1)" font-size="25.2">O</text><text transform="translate(225.78,873.5) scale(0.85,1)" font-size="25.2">F</text><text transform="translate(240.18,873.5) scale(0.85,1)" font-size="25.2">F</text><text class="thin3" transform="translate(199.24,943.9) scale(1.2,1)" font-size="25.2">t</text><text class="cj" x="158.98 182.4 205.82 229.24" y="977.99" font-size="22.5">控制周期</text><text transform="translate(196.8,1086.4) scale(0.69,1)" font-size="25.2">H</text><text transform="translate(211.11,1086.4) scale(0.83,1)" font-size="25.2">y</text><text class="cj" x="158.39 180.99 203.59 226.18" y="1115.68" font-size="19.7">主控回差</text><text transform="translate(415.1,415.6) scale(0.69,1)" font-size="25.2">H</text><text transform="translate(429.56,415.6) scale(0.83,1)" font-size="25.2">y</text><text transform="translate(443.89,415.6) scale(0.87,1)" font-size="25.2">1</text><text class="cj" x="385.52 408.07 430.62 453.17" y="445.5" font-size="19.5">第一报警</text><text class="cj" x="385.79 408.32 430.85 453.38" y="465.99" font-size="19.5">输出回差</text><text transform="translate(411.43,554.3) scale(0.91,1)" font-size="25.2">P</text><text transform="translate(426.9,554.3) scale(0.84,1)" font-size="25.2">b</text><text class="cj" x="380.6 404.65 428.7" y="582.64" font-size="19.8">传感器</text><text class="cj" x="380.41 404.26 428.11 451.97" y="603" font-size="19.8">误差修正</text><text transform="translate(403.58,703.7) scale(0.85,1)" font-size="25.2">F</text><text transform="translate(418.17,703.7) scale(1.1,1)" font-size="25.2">i</text><text transform="translate(432.9,703.7) scale(1.1,1)" font-size="25.2">l</text><text class="thin3" transform="translate(447.54,703.7) scale(1.2,1)" font-size="25.2">t</text><text class="cj" x="379.08 402.97 426.85 450.73" y="728.73" font-size="20.9">滤波系数</text><text transform="translate(403.8,837) scale(0.76,1)" font-size="25.2">L</text><text transform="translate(417.7,837) scale(0.9,1)" font-size="25.2">o</text><text transform="translate(431.81,837) scale(0.97,1)" font-size="25.2">c</text><text transform="translate(445.89,837) scale(0.88,1)" font-size="25.2">k</text><text class="cj" x="388.11 414.46 440.81" y="865.39" font-size="22.6">密码锁</text><text transform="translate(416.44,962.6) scale(0.97,1)" font-size="25.2">S</text><text transform="translate(431.21,962.6) scale(0.92,1)" font-size="25.2">n</text><text class="cj" x="379.66 405.93 432.19 458.46" y="989.6" font-size="22.7">输入类型</text><text transform="translate(409.13,1096.7) scale(0.91,1)" font-size="25.2">P</text><text class="thin3" transform="translate(423.28,1096.7) scale(1.47,1)" font-size="25.2">-</text><text transform="translate(437.54,1096.7) scale(0.97,1)" font-size="25.2">S</text><text transform="translate(451.9,1096.7) scale(0.69,1)" font-size="25.2">H</text><text class="cj" x="383.73 410.03 436.33 462.64" y="1124.37" font-size="22.7">显示上限</text><text transform="translate(633.63,429.1) scale(0.91,1)" font-size="25.2">P</text><text class="thin3" transform="translate(647.68,429.1) scale(1.47,1)" font-size="25.2">-</text><text transform="translate(661.84,429.1) scale(0.97,1)" font-size="25.2">S</text><text transform="translate(676.4,429.1) scale(0.76,1)" font-size="25.2">L</text><text class="cj" x="606.83 633 659.17 685.34" y="463.08" font-size="22">显示下限</text><text transform="translate(629.5,564.6) scale(0.9,1)" font-size="25.2">o</text><text transform="translate(643.54,564.6) scale(0.88,1)" font-size="25.2">u</text><text class="thin3" transform="translate(657.44,564.6) scale(1.2,1)" font-size="25.2">t</text><text transform="translate(671.5,564.6) scale(0.69,1)" font-size="25.2">H</text><text class="cj" x="604.86 630.92 656.98 683.04" y="592.03" font-size="22.5">输出上限</text><text transform="translate(632.5,695.6) scale(0.9,1)" font-size="25.2">o</text><text transform="translate(646.74,695.6) scale(0.88,1)" font-size="25.2">u</text><text class="thin3" transform="translate(660.84,695.6) scale(1.2,1)" font-size="25.2">t</text><text transform="translate(675.4,695.6) scale(0.76,1)" font-size="25.2">L</text><text class="cj" x="607.76 633.79 659.81 685.84" y="720.6" font-size="22.3">输出下限</text><text transform="translate(632.48,824) scale(0.68,1)" font-size="25.2">A</text><text transform="translate(647.1,824) scale(0.76,1)" font-size="25.2">L</text><text transform="translate(661.23,824) scale(0.91,1)" font-size="25.2">P</text><text class="cj" x="612.35 635.55 658.75 681.95" y="849.57" font-size="20.5">报警输出</text><text class="cj" x="612.29 635.69" y="871.08" font-size="20.5">定义</text><text class="thin3" transform="translate(632.94,959.9) scale(1.2,1)" font-size="25.2">t</text><text transform="translate(647.21,959.9) scale(0.8,1)" font-size="25.2">E</text><text transform="translate(661.13,959.9) scale(0.91,1)" font-size="25.2">P</text><text class="cj" x="610.71 635.97 661.22 686.48" y="987.91" font-size="21.2">时间单位</text><text class="cj" x="611.14 636.46" y="1009.67" font-size="20.9">选择</text><text transform="translate(632.14,1099.4) scale(0.76,1)" font-size="25.2">C</text><text transform="translate(646.5,1099.4) scale(0.68,1)" font-size="25.2">O</text><text transform="translate(661,1099.4) scale(0.68,1)" font-size="25.2">O</text><text transform="translate(675.8,1099.4) scale(0.76,1)" font-size="25.2">L</text><text class="cj" x="611.53 636.45 661.37 686.29" y="1125.05" font-size="21">正反控制</text><text class="cj" x="611.24 636.08 660.92 685.76" y="1147.08" font-size="21.2">作用选择</text><text transform="translate(871,473.7) scale(0.68,1)" font-size="25.2">O</text><text transform="translate(885.38,473.7) scale(0.91,1)" font-size="25.2">P</text><text class="thin3" transform="translate(899.48,473.7) scale(1.47,1)" font-size="25.2">-</text><text transform="translate(913.73,473.7) scale(0.68,1)" font-size="25.2">A</text><text class="cj" x="856.37 881.04 905.7 930.37" y="501.09" font-size="21.9">输出方式</text><text class="cj" x="856.09 880.39" y="522.86" font-size="21.3">选择</text><text transform="translate(871,602.4) scale(0.68,1)" font-size="25.2">O</text><text transform="translate(885.53,602.4) scale(0.91,1)" font-size="25.2">P</text><text transform="translate(899.93,602.4) scale(0.91,1)" font-size="25.2">P</text><text transform="translate(914.2,602.4) scale(0.68,1)" font-size="25.2">O</text><text class="cj" x="856.53 882.66 908.78 934.91" y="634.3" font-size="22.3">开机输出</text><text class="cj" x="856.57 883.66" y="658.88" font-size="22.7">功率</text><text transform="translate(882.64,744.8) scale(0.76,1)" font-size="25.2">C</text><text class="thin3" transform="translate(897,744.8) scale(1.38,1)" font-size="25.2">/</text><text transform="translate(911.58,744.8) scale(0.85,1)" font-size="25.2">F</text><text class="cj" x="860.16 886.4 907.24 930.78" y="774.74 773.44 774.74 774.74" font-size="21.3">华、摄氏</text><text class="cj" x="860.01 883.08" y="797.17" font-size="21.4">转换</text><text transform="translate(901.74,886) scale(0.87,1)" font-size="25.2">d</text><text transform="translate(915.96,886) scale(0.91,1)" font-size="25.2">p</text><text class="cj" x="859.12 885.12 911.12 937.12" y="915.24" font-size="22.9">显示精度</text><text class="thin2" transform="translate(867.88,1019.4) scale(1.06,1)" font-size="40.5">I</text><text class="thin2" transform="translate(893.54,1019.4) scale(1.03,1)" font-size="40.5">n</text><text class="thin2" transform="translate(920.11,1019.4) scale(1.19,1)" font-size="40.5">t</text><text class="cj" x="860.04 883.91 907.78" y="1040.58" font-size="19.5">时间功</text><text class="cj" x="860.76 884.14 907.51" y="1060.05" font-size="19.6">能选择</text><text class="cj" x="756.09 783.1 810.11 837.13" y="1146.9" font-size="23.2">返回正常</text><text class="cj" x="755.82 782.89 809.96 837.04" y="1171.77" font-size="22.8">显示状态</text></g>
</g>
</svg>
</body>
</html>
